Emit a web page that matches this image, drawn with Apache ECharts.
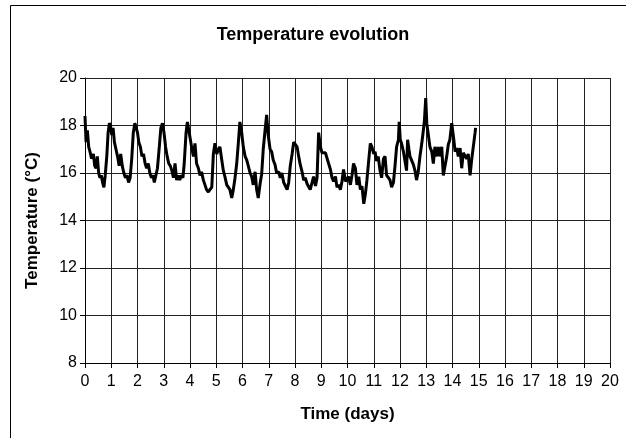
<!DOCTYPE html>
<html>
<head>
<meta charset="utf-8">
<script src="https://cdn.jsdelivr.net/npm/echarts@6/dist/echarts.min.js"></script>
<style>
html,body{margin:0;padding:0;background:#fff;}
#chart{width:626px;height:438px;}
</style>
</head>
<body>
<div id="chart"></div>
<script>
var chartTitle = "Temperature evolution";
var xAxisName = "Time (days)";
var yAxisName = "Temperature (°C)";
var xTicks = [0,1,2,3,4,5,6,7,8,9,10,11,12,13,14,15,16,17,18,19,20];
var yTicks = [8,10,12,14,16,18,20];

var days = [
 0,0.04,0.09,0.14,0.19,0.25,0.32,0.37,0.42,0.47,0.52,0.57,0.62,0.67,0.72,0.77,0.83,0.88,0.93,0.97,
 1.02,1.07,1.12,1.18,1.24,1.30,1.36,1.42,1.48,1.54,1.60,1.66,1.72,1.78,1.84,1.90,1.95,
 2.0,2.05,2.11,2.17,2.23,2.29,2.35,2.41,2.47,2.53,2.59,2.64,2.70,2.76,2.83,2.89,2.95,
 3.01,3.07,3.13,3.19,3.25,3.31,3.37,3.43,3.49,3.55,3.61,3.67,3.73,3.78,3.85,3.90,
 4.0,4.06,4.13,4.19,4.25,4.32,4.38,4.44,4.51,4.57,4.63,4.70,4.76,4.83,4.89,4.95,
 5.02,5.08,5.14,5.21,5.27,5.33,5.40,5.46,5.52,5.59,5.65,5.71,5.78,5.84,5.90,5.97,
 6.03,6.10,6.16,6.22,6.29,6.35,6.41,6.48,6.54,6.60,6.67,6.73,6.79,6.86,6.92,6.98,
 7.05,7.11,7.17,7.24,7.30,7.38,7.44,7.50,7.57,7.63,7.70,7.76,7.82,7.89,7.95,
 8.01,8.08,8.14,8.20,8.27,8.33,8.39,8.46,8.52,8.58,8.65,8.71,8.78,8.84,8.90,8.97,
 9.03,9.09,9.16,9.22,9.28,9.35,9.41,9.47,9.54,9.60,9.66,9.73,9.79,9.85,9.92,9.98,
 10.04,10.11,10.17,10.23,10.30,10.36,10.43,10.49,10.55,10.62,10.68,10.74,10.81,10.87,10.93,
 11.00,11.05,11.11,11.17,11.24,11.30,11.37,11.43,11.49,11.56,11.62,11.68,11.75,11.81,11.87,11.94,11.97,
 12.01,12.06,12.13,12.19,12.25,12.29,12.34,12.38,12.44,12.51,12.57,12.63,12.70,12.76,12.83,12.89,12.93,12.98,
 13.02,13.08,13.14,13.21,13.27,13.33,13.40,13.46,13.52,13.59,13.65,13.71,13.78,13.84,13.90,13.97,
 14.00,14.05,14.10,14.16,14.22,14.29,14.35,14.41,14.48,14.54,14.60,14.67,14.73,14.79,14.86,14.88
];
var temps = [
 18.4,17.3,17.8,17.1,16.9,16.6,16.8,16.3,16.2,16.7,16.0,15.8,15.9,15.6,15.4,15.9,16.7,17.7,18.1,18.0,
 17.6,17.9,17.3,17.0,16.7,16.3,16.8,16.3,16.0,15.8,15.9,15.6,15.8,16.6,17.7,18.1,18.1,
 17.7,17.3,17.1,16.7,16.8,16.4,16.2,16.4,16.0,15.8,15.9,15.6,15.9,16.2,17.1,17.9,18.1,
 17.7,17.1,16.7,16.4,16.3,16.1,15.8,16.4,15.7,15.9,15.7,15.9,15.8,16.4,17.7,18.15,
 17.5,17.1,16.7,17.25,16.4,16.2,15.9,16.05,15.7,15.5,15.3,15.2,15.3,15.4,16.8,17.25,
 16.8,17.0,17.1,16.55,16.1,15.85,15.5,15.45,15.3,14.95,15.3,15.75,16.4,17.25,18.15,17.7,
 17.1,16.7,16.55,16.3,16.0,15.85,15.5,16.05,15.3,14.95,15.55,15.95,17.0,17.8,18.45,17.6,
 17.0,16.9,16.55,16.35,16.0,16.05,15.8,16.0,15.6,15.55,15.3,15.6,16.3,16.8,17.3,
 17.3,17.1,16.7,16.35,16.05,15.7,15.8,15.55,15.5,15.3,15.6,15.85,15.45,15.8,17.7,17.1,
 16.85,16.9,16.85,16.9,16.4,16.15,15.8,15.65,15.85,15.4,15.5,15.3,15.65,16.15,15.65,15.65,
 15.85,15.5,15.9,16.4,16.2,15.5,15.85,15.3,15.45,14.7,15.1,15.7,16.55,17.25,17.1,
 16.8,16.9,16.5,16.7,16.1,15.8,16.6,16.7,15.9,15.8,15.7,15.4,15.6,16.3,17.1,17.4,18.15,
 17.4,17.25,16.9,16.5,16.1,17.4,17.0,16.7,16.75,16.35,16.1,15.7,16.1,16.7,17.25,17.8,18.2,19.15,
 18.1,17.6,17.1,16.9,16.4,17.1,16.7,17.1,16.7,17.1,15.9,15.9,16.7,17.2,17.4,18.1,
 18.15,17.4,16.9,17.05,16.7,17.05,16.2,16.85,16.9,16.6,16.8,15.9,16.55,16.5,17.7,17.9
];

var seriesData = days.map(function(d, i){ return [d, temps[i]]; });

var chart = echarts.init(document.getElementById('chart'), null, {renderer:'canvas'});
var font = 'Liberation Sans, Arial, sans-serif';
chart.setOption({
  animation: false,
  backgroundColor: '#ffffff',
  title: {
    text: chartTitle, left: 'center', top: 21,
    textStyle: {fontFamily: font, fontSize: 18, fontWeight: 'bold', color: '#000'}
  },
  graphic: [{
    type: 'rect', silent: true, z: -1,
    shape: {x: 10.5, y: 5.5, width: 700, height: 500},
    style: {fill: 'none', stroke: '#000', lineWidth: 1}
  }],
  grid: {left: 85, right: 16, top: 78, bottom: 75, containLabel: false},
  xAxis: {
    type: 'value', min: xTicks[0], max: xTicks[xTicks.length-1], interval: 1,
    name: xAxisName, nameLocation: 'middle', nameGap: 43,
    nameTextStyle: {fontFamily: font, fontSize: 17, fontWeight: 'bold', color: '#000'},
    axisLine: {show: true, lineStyle: {color: '#000', width: 1}},
    axisTick: {show: true, inside: false, length: 5, lineStyle: {color: '#000'}},
    axisLabel: {fontFamily: font, fontSize: 16, color: '#000', margin: 11},
    splitLine: {show: true, lineStyle: {color: '#222', width: 1}}
  },
  yAxis: {
    type: 'value', min: yTicks[0], max: yTicks[yTicks.length-1], interval: 2,
    name: yAxisName, nameLocation: 'middle', nameGap: 44, nameRotate: 90,
    nameTextStyle: {fontFamily: font, fontSize: 17, fontWeight: 'bold', color: '#000'},
    axisLine: {show: true, lineStyle: {color: '#000', width: 1}},
    axisTick: {show: true, inside: false, length: 5, lineStyle: {color: '#000'}},
    axisLabel: {fontFamily: font, fontSize: 16, color: '#000', margin: 8},
    splitLine: {show: true, lineStyle: {color: '#222', width: 1}}
  },
  series: [{
    type: 'line', data: seriesData, showSymbol: false, smooth: false,
    lineStyle: {color: '#000', width: 3}, z: 5
  }]
});
</script>
</body>
</html>
